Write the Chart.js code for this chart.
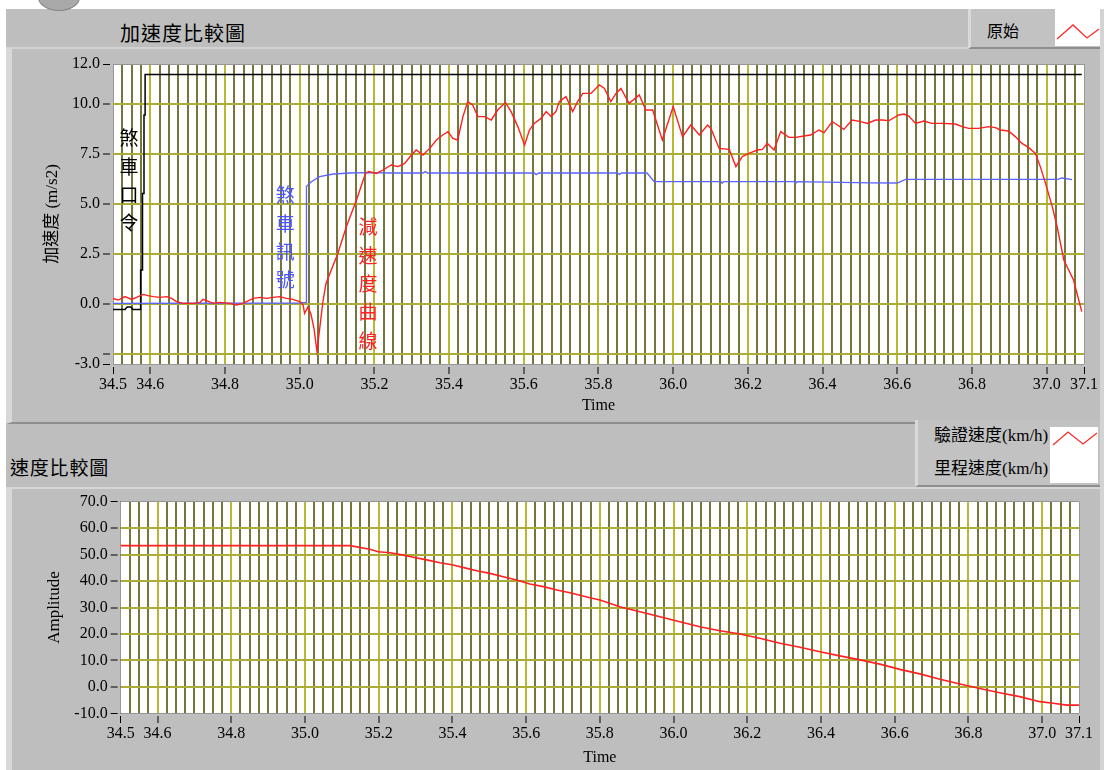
<!DOCTYPE html>
<html>
<head>
<meta charset="utf-8">
<script src="https://cdn.jsdelivr.net/npm/chart.js@4.4.1/dist/chart.umd.min.js"></script>
<style>
  html, body { margin: 0; padding: 0; background: #fff; }
  #page { position: relative; width: 1104px; height: 770px; overflow: hidden; background: #fff; }
  .abs { position: absolute; box-sizing: border-box; }
  #panel { left: 6px; top: 9px; width: 1098px; height: 761px; background: #bebebe; }
  #knob { left: 38px; top: -16px; width: 42px; height: 27px; border-radius: 50%; background: #a9a9a9; border: 1px solid #858585; }
  #rightEdge { left: 1100px; top: 9px; width: 4px; height: 761px; background: #d4d4d4; }
  #accelFrame { left: 6px; top: 47px; width: 1094px; height: 377px; border-left: 6px solid #d8d8d8; border-top: 2px solid #d2d2d2; border-bottom: 2px solid #8e8e8e; }
  #speedFrame { left: 6px; top: 487px; width: 1094px; height: 283px; border-left: 6px solid #d8d8d8; border-top: 2px solid #d6d6d6; }
  #rawLegend { left: 968px; top: 9px; width: 132px; height: 40px; background: #c2c2c2; border-left: 3px solid #dadada; border-bottom: 2px solid #8e8e8e; }
  #rawIcon { left: 1055px; top: 9px; width: 45px; height: 37px; background: #fff; }
  #speedLegend { left: 915px; top: 420px; width: 185px; height: 67px; background: #c2c2c2; border-left: 3px solid #dadada; border-bottom: 2px solid #8e8e8e; }
  #speedIcon { left: 1050px; top: 427px; width: 48px; height: 56px; background: #fff; }
  .cjk { font-family: "Noto Sans CJK TC", "Noto Sans CJK SC", sans-serif; color: #000; white-space: nowrap; }
  .mixed { font-family: "Liberation Serif", "Noto Sans CJK TC", serif; color: #000; white-space: nowrap; }
  #accelTitle { left: 120px; top: 21px; font-size: 20px; line-height: 24px; letter-spacing: 1px; }
  #speedTitle { left: 10px; top: 455px; font-size: 19px; line-height: 24px; letter-spacing: 0.8px; }
  #rawLabel { left: 987px; top: 19px; font-size: 16px; line-height: 22px; }
  #checkLabel { left: 934px; top: 425px; font-size: 17px; line-height: 22px; }
  #odoLabel { left: 934px; top: 458px; font-size: 17px; line-height: 22px; }
  canvas { position: absolute; left: 0; }
</style>
</head>
<body>
<div id="page">
  <div class="abs" id="panel"></div>
  <div class="abs" id="knob"></div>
  <div class="abs" id="rightEdge"></div>
  <div class="abs" id="accelFrame"></div>
  <div class="abs" id="speedFrame"></div>

  <div class="abs cjk" id="accelTitle">加速度比較圖</div>
  <div class="abs" id="rawLegend"></div>
  <div class="abs cjk" id="rawLabel">原始</div>
  <div class="abs" id="rawIcon">
    <svg width="45" height="37"><polyline points="2,30 18,16 32,29 44,20" fill="none" stroke="#ff2a2a" stroke-width="1.3"/></svg>
  </div>

  <div class="abs cjk" id="speedTitle">速度比較圖</div>
  <div class="abs" id="speedLegend"></div>
  <div class="abs mixed" id="checkLabel">驗證速度(km/h)</div>
  <div class="abs mixed" id="odoLabel">里程速度(km/h)</div>
  <div class="abs" id="speedIcon">
    <svg width="48" height="56"><polyline points="3,18 18,5 33,17 47,6" fill="none" stroke="#ff2a2a" stroke-width="1.3"/></svg>
  </div>

  <canvas id="accelChart" width="1104" height="430" style="top:0"></canvas>
  <canvas id="speedChart" width="1104" height="340" style="top:430px"></canvas>
</div>

<script>
// ---- Time axis ----
const timeTickLabels = [34.5, 34.6, 34.8, 35.0, 35.2, 35.4, 35.6, 35.8, 36.0, 36.2, 36.4, 36.6, 36.8, 37.0, 37.1];
const timeMin = 34.5;
const timeMax = 37.1;
const timeGridStep = 0.025;

// ---- Acceleration chart (m/s2) ----
const accelGridTicks = [-3, -2.5, 0, 2.5, 5, 7.5, 10, 12];
const accelTickLabels = [-3, 0, 2.5, 5, 7.5, 10, 12];

// 減速度曲線 (measured deceleration)
const decelTime = [
  34.5, 34.514, 34.532, 34.550, 34.563, 34.581, 34.594, 34.608, 34.626, 34.644,
  34.657, 34.670, 34.688, 34.715, 34.733, 34.741, 34.751, 34.768, 34.786, 34.813,
  34.831, 34.848, 34.875, 34.893, 34.911, 34.929, 34.947, 34.964, 34.982, 35.000,
  35.009, 35.013, 35.022, 35.030, 35.038, 35.046, 35.053, 35.062, 35.070, 35.076,
  35.102, 35.125, 35.152, 35.176, 35.185, 35.205, 35.223, 35.245, 35.263, 35.281,
  35.299, 35.312, 35.330, 35.348, 35.366, 35.383, 35.397, 35.410, 35.423, 35.437,
  35.450, 35.463, 35.477, 35.495, 35.513, 35.530, 35.551, 35.566, 35.584, 35.602,
  35.615, 35.628, 35.646, 35.660, 35.673, 35.686, 35.695, 35.713, 35.731, 35.744,
  35.758, 35.780, 35.802, 35.816, 35.833, 35.847, 35.860, 35.882, 35.909, 35.927,
  35.945, 35.971, 36.000, 36.025, 36.047, 36.070, 36.092, 36.101, 36.123, 36.150,
  36.168, 36.185, 36.203, 36.225, 36.239, 36.252, 36.270, 36.288, 36.310, 36.328,
  36.350, 36.368, 36.390, 36.404, 36.426, 36.444, 36.457, 36.479, 36.502, 36.520,
  36.542, 36.560, 36.578, 36.604, 36.618, 36.631, 36.649, 36.671, 36.693, 36.720,
  36.756, 36.774, 36.791, 36.818, 36.845, 36.863, 36.876, 36.898, 36.916, 36.934,
  36.952, 36.970, 36.983, 36.997, 37.015, 37.028, 37.046, 37.059, 37.072, 37.094
];
const decelValue = [
  0.28, 0.20, 0.37, 0.23, 0.33, 0.48, 0.42, 0.37, 0.33, 0.37,
  0.28, 0.12, 0.03, 0.03, 0.08, 0.23, 0.17, 0.03, 0.08, 0.03,
  -0.05, 0.03, 0.28, 0.33, 0.28, 0.33, 0.37, 0.28, 0.23, 0.12,
  -0.05, -0.47, -0.15, -0.50, -1.20, -2.35, -1.30, 0.10, 1.00, 1.30,
  2.53, 3.87, 5.20, 6.53, 6.62, 6.53, 6.70, 6.95, 6.87, 7.03,
  7.45, 7.70, 7.45, 7.78, 8.20, 8.45, 8.62, 8.28, 8.20, 9.37,
  10.12, 9.95, 9.37, 9.37, 9.20, 9.70, 10.07, 9.62, 8.87, 7.95,
  8.70, 9.03, 9.28, 9.62, 9.37, 9.62, 10.12, 10.37, 9.62, 10.12,
  10.53, 10.53, 10.95, 10.78, 10.12, 10.53, 10.78, 10.03, 10.45, 9.70,
  9.70, 8.20, 9.87, 8.37, 8.95, 8.45, 8.95, 8.78, 7.78, 7.73,
  6.87, 7.37, 7.53, 7.70, 7.73, 8.03, 7.70, 8.62, 8.33, 8.33,
  8.40, 8.45, 8.70, 8.57, 9.12, 8.90, 8.73, 9.20, 9.12, 9.03,
  9.20, 9.20, 9.17, 9.45, 9.50, 9.40, 9.03, 9.15, 9.03, 9.03,
  9.00, 8.87, 8.78, 8.78, 8.87, 8.82, 8.70, 8.65, 8.37, 8.03,
  7.82, 7.53, 6.87, 6.03, 4.87, 3.87, 2.20, 1.70, 1.20, -0.38
];

// 煞車訊號 (brake signal)
const signalTime = [
  34.5, 35.0, 35.017, 35.018, 35.030, 35.053, 35.090, 35.134, 35.185, 35.250,
  35.330, 35.336, 35.342, 35.500, 35.628, 35.633, 35.640, 35.850, 35.856, 35.862,
  35.930, 35.949, 36.128, 36.131, 36.135, 36.325, 36.328, 36.332, 36.530, 36.600,
  36.622, 37.030, 37.041, 37.068
];
const signalValue = [
  0.03, 0.05, 0.08, 5.87, 6.10, 6.37, 6.50, 6.55, 6.57, 6.55,
  6.55, 6.62, 6.55, 6.55, 6.55, 6.47, 6.55, 6.55, 6.48, 6.55,
  6.55, 6.12, 6.12, 6.04, 6.12, 6.12, 6.04, 6.12, 6.06, 6.05,
  6.23, 6.23, 6.30, 6.22
];

// 煞車口令 (brake command)
const commandTime = [34.5, 34.532, 34.538, 34.548, 34.553, 34.574, 34.574, 34.579, 34.579, 34.583, 34.583, 34.586, 34.586, 37.094];
const commandValue = [-0.27, -0.27, -0.15, -0.15, -0.27, -0.27, 1.70, 1.70, 5.53, 5.53, 9.45, 9.45, 11.48, 11.48];

// ---- Speed chart (km/h) ----
const speedTicks = [-10, 0, 10, 20, 30, 40, 50, 60, 70];

// 驗證速度 (reference speed)
const speedTime = [
  34.5, 35.122, 35.176, 35.199, 35.231, 35.267, 35.294, 35.330, 35.366, 35.402,
  35.439, 35.466, 35.502, 35.538, 35.574, 35.610, 35.647, 35.683, 35.719, 35.773,
  35.800, 35.854, 35.909, 35.963, 36.017, 36.071, 36.126, 36.180, 36.234, 36.289,
  36.343, 36.397, 36.451, 36.506, 36.560, 36.614, 36.668, 36.723, 36.777, 36.831,
  36.885, 36.939, 36.994, 37.030, 37.066, 37.1
];
const speedValue = [
  53.4, 53.4, 52.0, 51.1, 50.7, 49.8, 49.0, 48.0, 46.9, 46.1,
  44.8, 43.9, 42.9, 41.6, 40.4, 38.9, 37.9, 36.6, 35.6, 33.7,
  32.8, 30.3, 28.4, 26.5, 24.6, 22.7, 21.2, 20.0, 18.4, 16.5,
  15.0, 13.3, 11.7, 10.2, 8.6, 6.6, 4.9, 2.9, 1.1, -0.6,
  -2.2, -3.7, -5.6, -6.2, -6.9, -6.9
];

// Vertical captions placed in data coordinates (first character position)
const captions = [
  { text: '煞車口令', t: 34.543, v: 8.3, color: '#000000' },
  { text: '煞車訊號', t: 34.961, v: 5.45, color: '#4a55ff' },
  { text: '減速度曲線', t: 35.183, v: 3.85, color: '#ff2222' }
];

// ---- styling ----
const SERIF = '"Liberation Serif", "Times New Roman", serif';
const MIXED = '"Liberation Serif", "Noto Sans CJK TC", serif';
const CJK = '"Noto Sans CJK TC", "Noto Sans CJK SC", sans-serif';
const GRID_MINOR = 'rgb(118,118,58)';
const GRID_MAJOR = 'rgb(184,184,50)';
const GRID_H = 'rgb(172,172,56)';
const GRID_EDGE = 'rgb(150,150,150)';

Chart.defaults.color = '#000';

const zip = (xs, ys) => xs.map((x, i) => ({ x, y: ys[i] }));
const near = (a, b) => Math.abs(a - b) < 1e-6;
const isLabelledTime = v => timeTickLabels.some(t => near(t, v));
const isTimeEdge = v => near(v, timeMin) || near(v, timeMax);

const plotBackground = {
  id: 'plotBackground',
  beforeDraw(chart) {
    const { ctx, chartArea: a } = chart;
    ctx.save();
    ctx.fillStyle = '#ffffff';
    ctx.fillRect(a.left, a.top, a.width, a.height);
    ctx.restore();
  }
};

const verticalCaptions = {
  id: 'verticalCaptions',
  afterDatasetsDraw(chart) {
    const { ctx, scales: { x, y } } = chart;
    ctx.save();
    ctx.font = '19px ' + CJK;
    ctx.textAlign = 'center';
    ctx.textBaseline = 'middle';
    captions.forEach(c => {
      const px = x.getPixelForValue(c.t);
      const py = y.getPixelForValue(c.v);
      ctx.fillStyle = c.color;
      [...c.text].forEach((ch, i) => ctx.fillText(ch, px, py + i * 28.4));
    });
    ctx.restore();
  }
};

function timeAxis(axisHeight, titleBottomPad) {
  return {
    type: 'linear',
    min: timeMin,
    max: timeMax,
    afterBuildTicks(scale) {
      const n = Math.round((timeMax - timeMin) / timeGridStep);
      const list = [];
      for (let i = 0; i <= n; i++) list.push({ value: +(timeMin + i * timeGridStep).toFixed(3) });
      scale.ticks = list;
    },
    afterFit(scale) { scale.height = axisHeight; },
    ticks: {
      autoSkip: false,
      maxRotation: 0,
      minRotation: 0,
      padding: 1,
      font: { family: SERIF, size: 16 },
      callback: v => isLabelledTime(v) ? v.toFixed(1) : ''
    },
    grid: {
      color: c => isTimeEdge(c.tick.value) ? GRID_EDGE : (isLabelledTime(c.tick.value) ? GRID_MAJOR : GRID_MINOR),
      lineWidth: c => isTimeEdge(c.tick.value) ? 1 : 2,
      tickColor: c => isLabelledTime(c.tick.value) ? '#000' : 'rgba(0,0,0,0)',
      tickLength: 10,
      tickWidth: 1,
      tickBorderDash: [7, 3],
      tickBorderDashOffset: 7
    },
    border: { display: false },
    title: { display: true, text: 'Time', font: { family: SERIF, size: 16 }, padding: { top: 0, bottom: titleBottomPad } }
  };
}

function valueAxis(min, max, gridTicks, labelTicks, axisWidth, title, titleSize, titleLeftPad) {
  return {
    type: 'linear',
    min, max,
    afterBuildTicks(scale) { scale.ticks = gridTicks.map(v => ({ value: v })); },
    afterFit(scale) { scale.width = axisWidth; },
    ticks: {
      autoSkip: false,
      padding: 3,
      font: { family: SERIF, size: 16 },
      callback: v => labelTicks.some(t => near(t, v)) ? v.toFixed(1) : ''
    },
    grid: {
      color: c => (near(c.tick.value, min) || near(c.tick.value, max)) ? GRID_EDGE : GRID_H,
      lineWidth: c => (near(c.tick.value, min) || near(c.tick.value, max)) ? 1 : 2,
      tickColor: '#000',
      tickLength: 10,
      tickWidth: 1,
      tickBorderDash: [7, 3]
    },
    border: { display: false },
    title: { display: true, text: title, font: { family: MIXED, size: titleSize }, padding: { top: titleLeftPad, bottom: 0 } }
  };
}

const lineStyle = (color, width) => ({
  borderColor: color, backgroundColor: color, borderWidth: width,
  pointRadius: 0, tension: 0, fill: false
});

new Chart(document.getElementById('accelChart'), {
  type: 'line',
  data: {
    datasets: [
      Object.assign({ label: '減速度曲線', data: zip(decelTime, decelValue) }, lineStyle('#ff2020', 1.4)),
      Object.assign({ label: '煞車訊號', data: zip(signalTime, signalValue) }, lineStyle('#5a64ff', 1.3)),
      Object.assign({ label: '煞車口令', data: zip(commandTime, commandValue) }, lineStyle('#000000', 1.5))
    ]
  },
  options: {
    responsive: false,
    animation: false,
    layout: { padding: { left: 0, top: 64, right: 20, bottom: 6 } },
    plugins: { legend: { display: false }, tooltip: { enabled: false } },
    scales: {
      x: timeAxis(60, 9),
      y: valueAxis(-3, 12, accelGridTicks, accelTickLabels, 113, '加速度 (m/s2)', 17, 42)
    }
  },
  plugins: [plotBackground, verticalCaptions]
});

new Chart(document.getElementById('speedChart'), {
  type: 'line',
  data: {
    datasets: [
      Object.assign({ label: '驗證速度(km/h)', data: zip(speedTime, speedValue) }, lineStyle('#ff2020', 1.6))
    ]
  },
  options: {
    responsive: false,
    animation: false,
    layout: { padding: { left: 0, top: 71.7, right: 25, bottom: 0 } },
    plugins: { legend: { display: false }, tooltip: { enabled: false } },
    scales: {
      x: timeAxis(56.7, 3),
      y: valueAxis(-10, 70, speedTicks, speedTicks, 120.7, 'Amplitude', 17, 44)
    }
  },
  plugins: [plotBackground]
});
</script>
</body>
</html>
